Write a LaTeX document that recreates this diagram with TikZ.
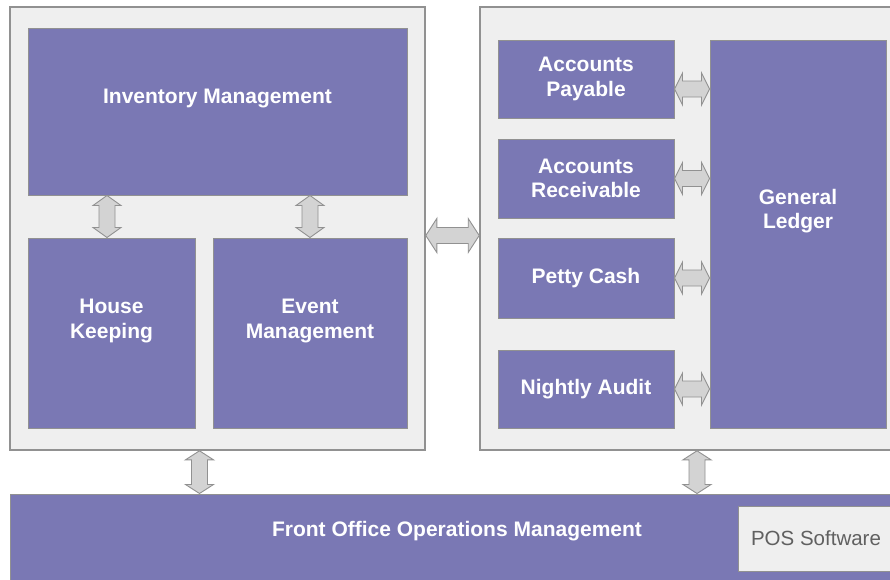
\documentclass[tikz,border=0pt]{standalone}
\usepackage{fontspec}
\setmainfont{Liberation Sans}
\usetikzlibrary{calc}
\definecolor{modfill}{RGB}{122,120,180}
\definecolor{panelfill}{RGB}{239,239,239}
\definecolor{edgegray}{RGB}{145,145,145}
\definecolor{arrowfill}{RGB}{211,211,211}
\definecolor{postext}{RGB}{96,96,96}
\tikzset{
  panel/.style={draw=edgegray, line width=1.6pt, fill=panelfill, inner sep=0pt},
  modbox/.style={draw=edgegray, line width=1pt, fill=modfill, inner sep=0pt},
  modtext/.style={text=white, font=\fontsize{21}{24.5}\selectfont\bfseries, align=center},
  linkarrow/.style={draw=edgegray, line width=0.9pt, fill=arrowfill},
}
% vertical double arrow: top, bottom, head length, head half width
\newcommand{\vlink}[4]{%
  \draw[linkarrow] (#1) -- ($(#1)+(#4,#3)$) -- ($(#1)+(8,#3)$) -- ($(#2)+(8,-#3)$)
    -- ($(#2)+(#4,-#3)$) -- (#2) -- ($(#2)+(-#4,-#3)$) -- ($(#2)+(-8,-#3)$)
    -- ($(#1)+(-8,#3)$) -- ($(#1)+(-#4,#3)$) -- cycle;}
% horizontal double arrow: left, right, head length, head half width
\newcommand{\hlink}[4]{%
  \draw[linkarrow] (#1) -- ($(#1)+(#3,-#4)$) -- ($(#1)+(#3,-8)$) -- ($(#2)+(-#3,-8)$)
    -- ($(#2)+(-#3,-#4)$) -- (#2) -- ($(#2)+(-#3,#4)$) -- ($(#2)+(-#3,8)$)
    -- ($(#1)+(#3,8)$) -- ($(#1)+(#3,#4)$) -- cycle;}
\begin{document}
\begin{tikzpicture}[x=1pt,y=-1pt]
\useasboundingbox (0,0) rectangle (890,579);
\clip (0,0) rectangle (890,579);
\fill[white] (0,0) rectangle (890,579);
% panels
\node[panel, minimum width=415pt, minimum height=443pt] (lp) at (217.5,228.5) {};
\node[panel, minimum width=425pt, minimum height=443pt] (rp) at (692.5,228.5) {};
% left panel modules
\node[modbox, minimum width=379pt, minimum height=167pt] (inv) at (217.5,111.5) {};
\node[modtext] (invt) at (217.5,98) {Inventory Management};
\node[modbox, minimum width=167pt, minimum height=190pt] (hk) at (111.5,333) {};
\node[modtext] (hkt) at (111.5,321) {House\\Keeping};
\node[modbox, minimum width=194pt, minimum height=190pt] (em) at (310,333) {};
\node[modtext] (emt) at (310,321) {Event\\Management};
% right panel modules
\node[modbox, modtext, minimum width=176pt, minimum height=78pt] (ap) at (586,79) {Accounts\\Payable};
\node[modbox, modtext, minimum width=176pt, minimum height=79pt] (ar) at (586,178.5) {Accounts\\Receivable};
\node[modbox, modtext, minimum width=176pt, minimum height=80pt] (pc) at (586,278) {Petty Cash};
\node[modbox, modtext, minimum width=176pt, minimum height=78pt] (na) at (586,389) {Nightly Audit};
\node[modbox, minimum width=176pt, minimum height=388pt] (gl) at (798,234) {};
\node[modtext] (glt) at (798,211) {General\\Ledger};
% front office bar
\node[modbox, minimum width=894pt, minimum height=91pt] (fo) at (457,539.5) {};
\node[modtext] (fot) at (457,531) {Front Office Operations Management};
\node[draw=edgegray, line width=1pt, fill=panelfill, minimum width=156pt, minimum height=65pt,
  text=postext, font=\fontsize{20.5}{24}\selectfont] (pos) at (816,538.5) {POS Software};
% links
\coordinate (invhk) at ($(hk.north |- inv.south)+(-4.5,0)$);
\coordinate (hkn) at ($(hk.north)+(-4.5,0)$);
\coordinate (invem) at (em.north |- inv.south);
\vlink{invhk}{hkn}{10}{14}
\vlink{invem}{em.north}{10}{14}
\coordinate (lpr) at ($(lp.east)+(0,7)$);
\coordinate (rpl) at ($(rp.west)+(0,7)$);
\hlink{lpr}{rpl}{11}{17}
\coordinate (apr) at ($(ap.east)+(0,10)$);
\coordinate (apgl) at (gl.west |- apr);
\hlink{apr}{apgl}{8}{16}
\coordinate (argl) at (gl.west |- ar.east);
\hlink{ar.east}{argl}{8}{16}
\coordinate (pcgl) at (gl.west |- pc.east);
\hlink{pc.east}{pcgl}{8}{16}
\coordinate (nagl) at (gl.west |- na.east);
\hlink{na.east}{nagl}{8}{16}
\coordinate (lpb) at ($(lp.south)+(-18,0)$);
\coordinate (folp) at (lpb |- fo.north);
\vlink{lpb}{folp}{9}{14}
\coordinate (rpb) at ($(rp.south)+(4.5,0)$);
\coordinate (forp) at (rpb |- fo.north);
\vlink{rpb}{forp}{9}{14}
\end{tikzpicture}
\end{document}
